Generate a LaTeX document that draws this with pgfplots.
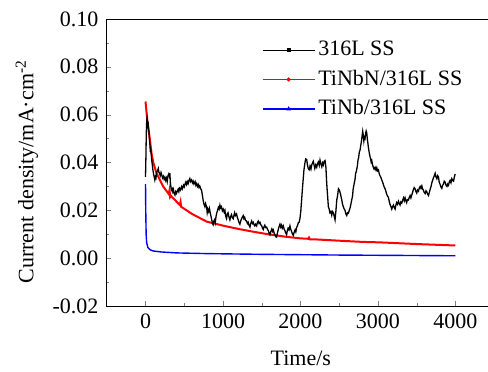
\documentclass[border=0pt]{standalone}
\usepackage{fontspec}
\setmainfont{Liberation Serif}
\usepackage{pgfplots}
\pgfplotsset{compat=1.18}
\begin{document}
\fontsize{22}{26}\selectfont
\begin{tikzpicture}
\begin{axis}[
  scale only axis, width=382pt, height=287pt,
  xmin=-510, xmax=4420, ymin=-0.02, ymax=0.10,
  axis x line*=box, axis y line*=left,
  tick align=inside, xtick pos=bottom, ytick pos=left,
  xtick={0,1000,2000,3000,4000}, minor xtick={500,1500,2500,3500},
  ytick={-0.02,0,0.02,0.04,0.06,0.08,0.10},
  minor ytick={-0.01,0.01,0.03,0.05,0.07,0.09},
  major tick length=5pt, minor tick length=3pt,
  /pgf/number format/assume math mode=true,
  /pgf/number format/1000 sep={},
  yticklabel style={/pgf/number format/fixed,/pgf/number format/fixed zerofill,/pgf/number format/precision=2},
  scaled y ticks=false,
  xticklabel style={font=\fontsize{22}{26}\selectfont},
  yticklabel style={font=\fontsize{22}{26}\selectfont},
  xlabel={Time/s},
  ylabel={Current density/mA·cm\textsuperscript{-2}},
  xlabel style={at={(axis description cs:0.51,-0.209)}, anchor=base},
  ylabel style={at={(axis description cs:-0.207,0.467)}, anchor=center},
  legend image code/.code={\draw[mark repeat=2,mark phase=2,#1] plot coordinates {(0pt,0pt) (26pt,0pt) (52pt,0pt)};},
  legend style={at={(axis description cs:0.408,0.93)}, anchor=north west, draw=none, fill=none, inner sep=0pt, row sep=7pt, font=\fontsize{22}{26}\selectfont, nodes={inner xsep=3pt}},
  legend cell align=left,
]
\coordinate (sw) at (rel axis cs:0,0);
\coordinate (ne) at (rel axis cs:1,1);
\addlegendimage{black, line width=1.2pt, mark=square*, mark size=1.3pt}
\addlegendentry{316L SS}
\addlegendimage{red, line width=1.2pt, mark=*, mark size=1.4pt}
\addlegendentry{TiNbN/316L SS}
\addlegendimage{blue, line width=1.2pt, mark=triangle*, mark size=1.6pt}
\addlegendentry{TiNb/316L SS}
% TiNb
\addplot[blue, line width=1.4pt, no marks, forget plot] coordinates {
(0,0.031)(3,0.02)(8,0.01)(15,0.0065)(30,0.0045)(60,0.0035)(100,0.003)(200,0.0026)(400,0.0022)(800,0.0019)(1500,0.0016)(2500,0.0013)(4000,0.0010)};
% TiNbN
\addplot[red, line width=2pt, no marks, forget plot] coordinates {
(0,0.0655)(10,0.062)(25,0.057)(55,0.050)(78,0.0438)(100,0.040)(142,0.0355)(228,0.030)(300,0.0268)(310,0.0285)(318,0.0255)(330,0.026)(443,0.0222)(452,0.0235)(460,0.0215)(600,0.0185)(788,0.0153)(1000,0.0136)(1218,0.0121)(1400,0.0110)(1563,0.0101)(1800,0.0090)(1993,0.0083)(2100,0.0081)(2110,0.0086)(2120,0.0079)(2166,0.0079)(2500,0.0073)(2800,0.0068)(3027,0.0066)(3500,0.0059)(4000,0.0053)};
% 316L
\addplot[black, line width=1.3pt, no marks, forget plot] coordinates {
(0,0.034)(5,0.042)(10,0.052)(15,0.057)(20,0.0585)(25,0.057)(30,0.0555)(35,0.056)(40,0.054)(47,0.052)(52,0.049)(58,0.047)(62,0.0445)(67,0.046)(72,0.044)(80,0.041)(88,0.039)(95,0.037)(105,0.035)(112,0.034)(120,0.0327)(128,0.034)(135,0.0335)(145,0.036)(155,0.0365)(165,0.0375)(172,0.036)(180,0.0355)(190,0.0345)(200,0.0358)(210,0.0347)(220,0.0335)(230,0.0342)(240,0.033)(250,0.0338)(260,0.0325)(270,0.0335)(280,0.032)(290,0.0345)(300,0.0352)(310,0.034)(314,0.0355)(322,0.031)(330,0.0295)(336,0.0285)(345,0.029)(352,0.0278)(360,0.0287)(370,0.027)(380,0.0264)(390,0.0278)(400,0.0271)(410,0.028)(421,0.0288)(430,0.0278)(440,0.0292)(452,0.0285)(465,0.0299)(475,0.029)(490,0.0305)(500,0.0298)(510,0.031)(520,0.0318)(530,0.0308)(540,0.032)(550,0.0312)(560,0.0325)(572,0.0333)(580,0.032)(594,0.0327)(605,0.0315)(615,0.0322)(625,0.031)(640,0.032)(650,0.0305)(660,0.0312)(670,0.030)(680,0.0308)(690,0.0296)(700,0.0302)(712,0.029)(723,0.0285)(735,0.026)(745,0.024)(755,0.0225)(766,0.0215)(775,0.0228)(788,0.0215)(796,0.019)(805,0.0205)(815,0.0195)(825,0.0208)(835,0.019)(845,0.0175)(855,0.016)(865,0.0145)(873,0.014)(882,0.0155)(890,0.016)(900,0.0148)(910,0.0175)(920,0.019)(930,0.020)(940,0.0212)(950,0.0205)(960,0.0222)(970,0.021)(980,0.0215)(992,0.0198)(1003,0.0205)(1015,0.0192)(1025,0.020)(1035,0.0175)(1046,0.0165)(1055,0.0185)(1065,0.019)(1075,0.0175)(1089,0.016)(1100,0.0175)(1110,0.0182)(1120,0.017)(1132,0.0165)(1142,0.018)(1150,0.019)(1160,0.0178)(1175,0.0185)(1185,0.017)(1195,0.0162)(1205,0.015)(1218,0.0142)(1228,0.0155)(1240,0.0165)(1250,0.0172)(1261,0.0178)(1270,0.0165)(1280,0.017)(1290,0.0158)(1305,0.0155)(1315,0.0145)(1325,0.015)(1335,0.0138)(1348,0.013)(1358,0.0145)(1370,0.0155)(1380,0.0145)(1391,0.015)(1400,0.014)(1410,0.0135)(1420,0.0142)(1434,0.0135)(1445,0.015)(1455,0.0155)(1465,0.0145)(1477,0.015)(1488,0.014)(1500,0.0135)(1510,0.0125)(1520,0.012)(1530,0.0132)(1540,0.0138)(1550,0.0128)(1563,0.013)(1575,0.012)(1585,0.0115)(1595,0.0105)(1606,0.0098)(1618,0.0112)(1630,0.0122)(1640,0.0112)(1649,0.0118)(1660,0.0105)(1670,0.0098)(1680,0.009)(1692,0.0088)(1702,0.0105)(1712,0.0118)(1722,0.013)(1735,0.0142)(1745,0.013)(1755,0.0138)(1765,0.0125)(1778,0.0135)(1790,0.012)(1800,0.0115)(1810,0.0105)(1821,0.0098)(1830,0.0115)(1840,0.0125)(1852,0.0118)(1864,0.0135)(1875,0.012)(1885,0.0112)(1895,0.0102)(1907,0.0095)(1918,0.0108)(1930,0.0118)(1940,0.011)(1950,0.0128)(1960,0.0135)(1972,0.0148)(1982,0.015)(1993,0.0165)(2005,0.020)(2015,0.0245)(2025,0.029)(2035,0.033)(2045,0.037)(2058,0.040)(2068,0.0415)(2080,0.0412)(2090,0.039)(2100,0.0375)(2112,0.037)(2123,0.0385)(2135,0.0372)(2145,0.039)(2155,0.0398)(2165,0.0405)(2175,0.039)(2185,0.0375)(2197,0.039)(2209,0.038)(2220,0.0395)(2230,0.0402)(2242,0.0388)(2252,0.041)(2263,0.0395)(2275,0.0382)(2285,0.0398)(2295,0.039)(2305,0.0405)(2317,0.0408)(2328,0.038)(2338,0.0315)(2350,0.026)(2360,0.0215)(2370,0.0205)(2380,0.019)(2392,0.0195)(2403,0.018)(2413,0.0195)(2425,0.019)(2435,0.0175)(2446,0.016)(2458,0.020)(2468,0.0243)(2478,0.026)(2490,0.029)(2501,0.0285)(2515,0.027)(2525,0.0255)(2533,0.0243)(2543,0.0225)(2553,0.0215)(2565,0.0205)(2575,0.020)(2585,0.0185)(2597,0.0178)(2607,0.019)(2618,0.0188)(2630,0.020)(2640,0.021)(2650,0.0225)(2661,0.0243)(2672,0.026)(2680,0.029)(2692,0.031)(2704,0.033)(2712,0.0355)(2720,0.0362)(2728,0.0375)(2734,0.0385)(2742,0.041)(2750,0.042)(2760,0.0445)(2769,0.0452)(2777,0.047)(2785,0.0485)(2795,0.051)(2803,0.053)(2810,0.0515)(2818,0.049)(2825,0.0505)(2833,0.050)(2840,0.052)(2848,0.0532)(2855,0.0525)(2862,0.050)(2870,0.048)(2880,0.0455)(2889,0.0438)(2897,0.0425)(2905,0.0415)(2912,0.0402)(2920,0.0408)(2930,0.039)(2940,0.038)(2950,0.0372)(2963,0.038)(2975,0.0368)(2985,0.0378)(2995,0.0365)(3006,0.0369)(3015,0.0355)(3025,0.0345)(3035,0.034)(3049,0.0327)(3060,0.0318)(3070,0.0308)(3080,0.0298)(3092,0.029)(3102,0.028)(3110,0.027)(3122,0.026)(3134,0.0255)(3145,0.0238)(3155,0.0225)(3165,0.0218)(3178,0.0205)(3188,0.0215)(3200,0.0222)(3210,0.0212)(3221,0.0205)(3230,0.022)(3240,0.0232)(3252,0.0225)(3264,0.0238)(3275,0.0228)(3285,0.0222)(3295,0.0235)(3307,0.023)(3318,0.0242)(3330,0.0252)(3340,0.024)(3350,0.0252)(3360,0.024)(3370,0.0232)(3380,0.0245)(3393,0.0243)(3405,0.0255)(3415,0.0262)(3425,0.0252)(3437,0.0265)(3447,0.0275)(3455,0.0285)(3467,0.0295)(3479,0.029)(3490,0.0278)(3500,0.0272)(3510,0.0285)(3522,0.028)(3535,0.0295)(3545,0.030)(3555,0.0292)(3566,0.0302)(3575,0.029)(3585,0.0285)(3597,0.0275)(3609,0.027)(3620,0.0282)(3630,0.0278)(3640,0.0268)(3652,0.0262)(3663,0.0275)(3675,0.029)(3685,0.030)(3695,0.0315)(3705,0.0325)(3715,0.0335)(3727,0.0345)(3738,0.0355)(3748,0.034)(3760,0.0332)(3770,0.0345)(3781,0.034)(3790,0.0318)(3800,0.031)(3812,0.0298)(3824,0.0292)(3835,0.0305)(3845,0.031)(3855,0.0322)(3867,0.0318)(3878,0.0305)(3890,0.030)(3900,0.031)(3910,0.0305)(3920,0.0318)(3930,0.0325)(3942,0.0315)(3953,0.0332)(3963,0.0325)(3975,0.0322)(3985,0.0338)(3996,0.0352)};
\end{axis}
\path (sw) ++(-106pt,-66pt) coordinate (bl);
\path (ne) ++(0pt,19pt) coordinate (tr);
\pgfresetboundingbox
\useasboundingbox (bl) rectangle (tr);
\end{tikzpicture}
\end{document}
